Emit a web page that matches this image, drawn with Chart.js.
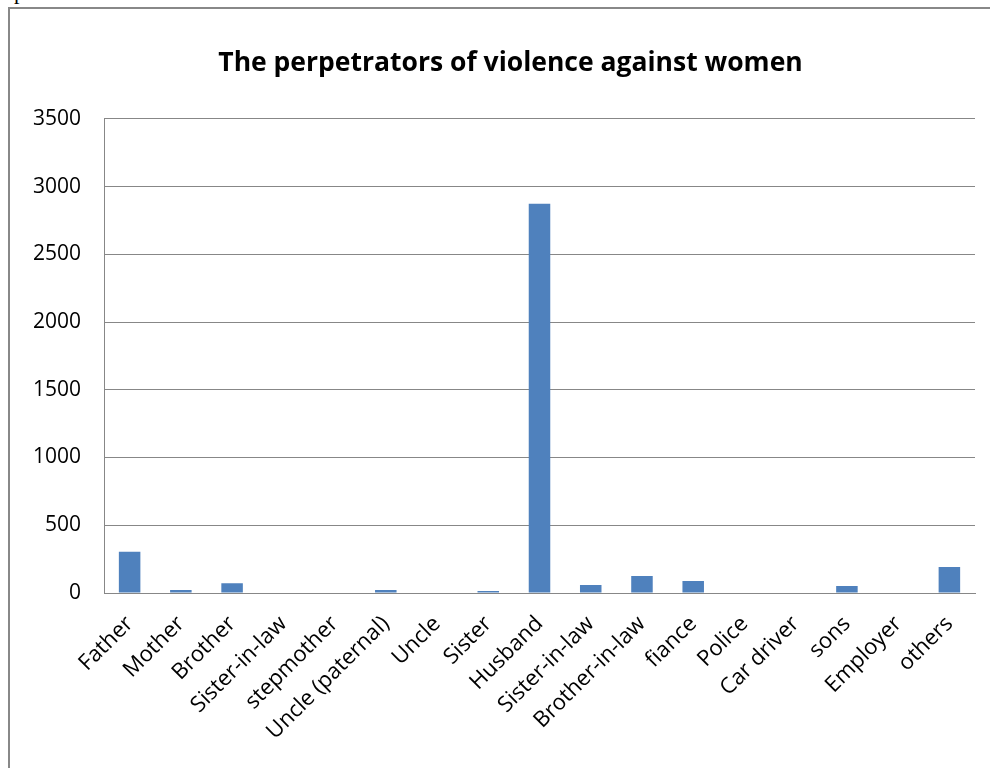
<!DOCTYPE html>
<html>
<head>
<meta charset="utf-8">
<title>The perpetrators of violence against women</title>
<script src="https://cdn.jsdelivr.net/npm/chart.js@4.4.1/dist/chart.umd.min.js"></script>
<style>
  body { margin: 0; background: #ffffff; }
  #wrap { position: relative; width: 990px; height: 768px; overflow: hidden; }
  #frame {
    position: absolute; left: 8px; top: 7px; width: 1200px; height: 1000px;
    border-left: 2px solid #888888; border-top: 2px solid #888888;
  }
  #stub {
    position: absolute; left: 14px; top: -21px;
    font: 22px "Liberation Serif", serif; color: #000;
  }
  #perp-chart { position: absolute; left: 0; top: 0; }
</style>
</head>
<body>
<div id="wrap">
  <div id="stub">p</div>
  <div id="frame"></div>
  <canvas id="perp-chart" width="990" height="768"></canvas>
</div>
<script>
// Perpetrators and number of cases
let perp_labels = [ 'Father', 'Mother', 'Brother', 'Sister-in-law', 'stepmother', 'Uncle (paternal)', 'Uncle',
                    'Sister', 'Husband', 'Sister-in-law', 'Brother-in-law', 'fiance', 'Police', 'Car driver',
                    'sons', 'Employer', 'others' ];
let perp_cases  = [ 305, 22, 72, 0, 0, 22, 0, 15, 2873, 59, 126, 89, 0, 0, 52, 0, 192 ];

// Value axis
let perp_y_min  = 0;
let perp_y_max  = 3500;
let perp_y_step = 500;

let perp_font   = '"Open Sans", "Noto Sans", sans-serif';
let perp_grey   = '#878787';

// Nudge the title box so its text sits a little right of the canvas middle
let perp_title_shift = {
    id: 'perpTitleShift',
    afterLayout: function( chart ) {
        if ( chart.titleBlock ) {
            chart.titleBlock.left = 46;
        }
    }
};

let perp_chart = new Chart( document.getElementById( 'perp-chart' ), {
    type: 'bar',
    data: {
        labels: perp_labels,
        datasets: [{
            data:               perp_cases,
            backgroundColor:    '#4f81bd',
            borderWidth:        0,
            barPercentage:      0.42,
            categoryPercentage: 1.0
        }]
    },
    options: {
        responsive: false,
        animation:  false,
        layout: {
            padding: { top: 0, right: 15, bottom: 0, left: 0 }
        },
        plugins: {
            legend:  { display: false },
            tooltip: { enabled: false },
            title: {
                display: true,
                text:    'The perpetrators of violence against women',
                color:   '#000000',
                font:    { family: perp_font, size: 26.5, weight: 'bold' },
                padding: { top: 48, bottom: 39 }
            }
        },
        scales: {
            x: {
                grid:   { display: false },
                border: { display: true, color: perp_grey, width: 1 },
                ticks: {
                    color:       '#000000',
                    font:        { family: perp_font, size: 22 },
                    minRotation: 45,
                    maxRotation: 45,
                    autoSkip:    false,
                    padding:     10
                },
                afterFit: function( scale ) { scale.height = 175; }
            },
            y: {
                min: perp_y_min,
                max: perp_y_max,
                grid:   { color: perp_grey, lineWidth: 1, drawTicks: false },
                border: { display: true, color: perp_grey, width: 1 },
                ticks: {
                    stepSize: perp_y_step,
                    color:    '#000000',
                    font:     { family: perp_font, size: 21 },
                    padding:  23,
                    // plain numbers, no thousands separator
                    callback: function( value ) { return String( value ); }
                },
                afterFit: function( scale ) { scale.width = 104; }
            }
        }
    },
    plugins: [ perp_title_shift ]
});
</script>
</body>
</html>
